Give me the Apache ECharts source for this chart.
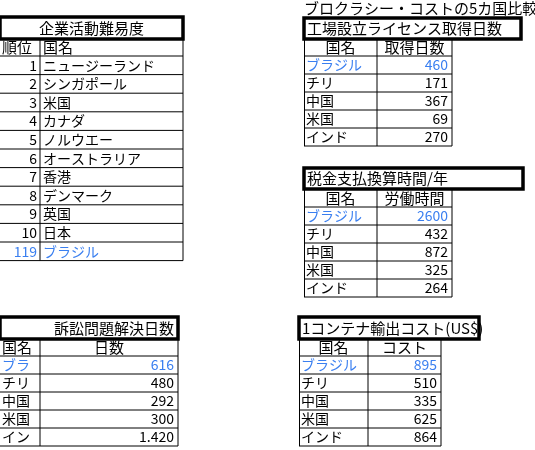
<!DOCTYPE html>
<html>
<head>
<meta charset="utf-8">
<script src="https://cdn.jsdelivr.net/npm/echarts@6/dist/echarts.min.js"></script>
<style>html,body{margin:0;padding:0;background:#fff}#main{width:535px;height:450px}</style>
</head>
<body>
<div id="main"></div>
<script>
// data
var rankNo = ['1','2','3','4','5','6','7','8','9','10','119'];
var rankName = ['ニュージーランド','シンガポール','米国','カナダ','ノルウエー','オーストラリア','香港','デンマーク','英国','日本','ブラジル'];
var countries = ['ブラジル','チリ','中国','米国','インド'];
var licenseDays = ['460','171','367','69','270'];
var taxHours = ['2600','432','872','325','264'];
var courtDays = ['616','480','292','300','1.420'];
var containerCost = ['895','510','335','625','864'];

var FONT = '"Noto Sans CJK JP", sans-serif';
var BLUE = '#3a7ff0';
var els = [];

function line(x1, y1, x2, y2, w) {
    els.push({type: 'line', shape: {x1: x1, y1: y1, x2: x2, y2: y2}, style: {stroke: '#000', lineWidth: w || 1}, silent: true});
}
function txt(s, x, y, align, color, size, width) {
    var st = {text: s, x: x, y: y, fill: color || '#000', font: (size || 14) + 'px ' + FONT, align: align || 'left', verticalAlign: 'middle'};
    if (width) { st.width = width; st.overflow = 'truncate'; st.ellipsis = ''; }
    els.push({type: 'text', style: st, silent: true});
}
function titleBox(s, x1, y1, x2, y2, align) {
    els.push({type: 'rect', shape: {x: x1, y: y1, width: x2 - x1, height: y2 - y1}, style: {fill: 'none', stroke: '#000', lineWidth: 3.5}, silent: true});
    txt(s, align === 'right' ? x2 - 4 : (align === 'center' ? (x1 + x2) / 2 : x1 + 3), (y1 + y2) / 2, align || 'left', '#000', 15);
}
// generic two-column table
function table(t) {
    titleBox(t.title, t.x0, t.ty, t.tx2, t.hy, t.talign);
    var n = t.col1.length, rh = t.rh;
    var yEnd = t.dy + n * rh;
    txt(t.h1, t.h1c ? (t.x0 + t.xs) / 2 : t.x0 + 2, (t.hy + t.dy) / 2, t.h1c ? 'center' : 'left', '#000', 15);
    txt(t.h2, t.h2c ? (t.xs + t.xe) / 2 : t.xs + 3, (t.hy + t.dy) / 2, t.h2c ? 'center' : 'left', '#000', 15);
    for (var i = 0; i <= n; i++) line(t.x0, t.dy + i * rh, t.xe, t.dy + i * rh);
    if (t.leftLine) line(t.x0 + 0.5, t.hy, t.x0 + 0.5, yEnd);
    line(t.xs, t.hy, t.xs, yEnd);
    line(t.xe, t.hy, t.xe, yEnd);
    for (var j = 0; j < n; j++) {
        var c = t.blue.indexOf(j) >= 0 ? BLUE : '#000';
        var yc = t.dy + j * rh + rh / 2;
        if (t.c1right) txt(t.col1[j], t.xs - 3, yc, 'right', c);
        else txt(t.col1[j], t.x0 + 2, yc, 'left', c, 14, t.xs - t.x0 - 3);
        if (t.c2right) txt(t.col2[j], t.xe - 4, yc, 'right', c);
        else txt(t.col2[j], t.xs + 3, yc, 'left', c);
    }
}

table({title: '企業活動難易度', talign: 'center', x0: 0, ty: 17, tx2: 183, hy: 39, dy: 56, rh: 18.6,
    xs: 40, xe: 183, h1: '順位', h2: '国名', col1: rankNo, col2: rankName, c1right: true, blue: [10]});
txt('ブロクラシー・コストの5カ国比較', 304, 8, 'left', '#000', 15);
table({title: '工場設立ライセンス取得日数', x0: 304, ty: 18, tx2: 521, hy: 39, dy: 56, rh: 18,
    xs: 377, xe: 452, h1: '国名', h2: '取得日数', h1c: true, h2c: true, col1: countries, col2: licenseDays, c2right: true, leftLine: true, blue: [0]});
table({title: '税金支払換算時間/年', x0: 304, ty: 168, tx2: 523, hy: 189, dy: 207, rh: 18,
    xs: 377, xe: 452, h1: '国名', h2: '労働時間', h1c: true, h2c: true, col1: countries, col2: taxHours, c2right: true, leftLine: true, blue: [0]});
table({title: '訴訟問題解決日数', talign: 'right', x0: 0, ty: 317, tx2: 178, hy: 339, dy: 356, rh: 18,
    xs: 40, xe: 178, h1: '国名', h2: '日数', h2c: true, col1: countries, col2: courtDays, c2right: true, blue: [0]});
table({title: '1コンテナ輸出コスト(US$)', x0: 299, ty: 317, tx2: 479, hy: 339, dy: 356, rh: 18,
    xs: 368, xe: 441, h1: '国名', h2: 'コスト', h1c: true, h2c: true, col1: countries, col2: containerCost, c2right: true, leftLine: true, blue: [0]});

var myChart = echarts.init(document.getElementById('main'));
myChart.setOption({animation: false, graphic: {elements: els}});
</script>
</body>
</html>
